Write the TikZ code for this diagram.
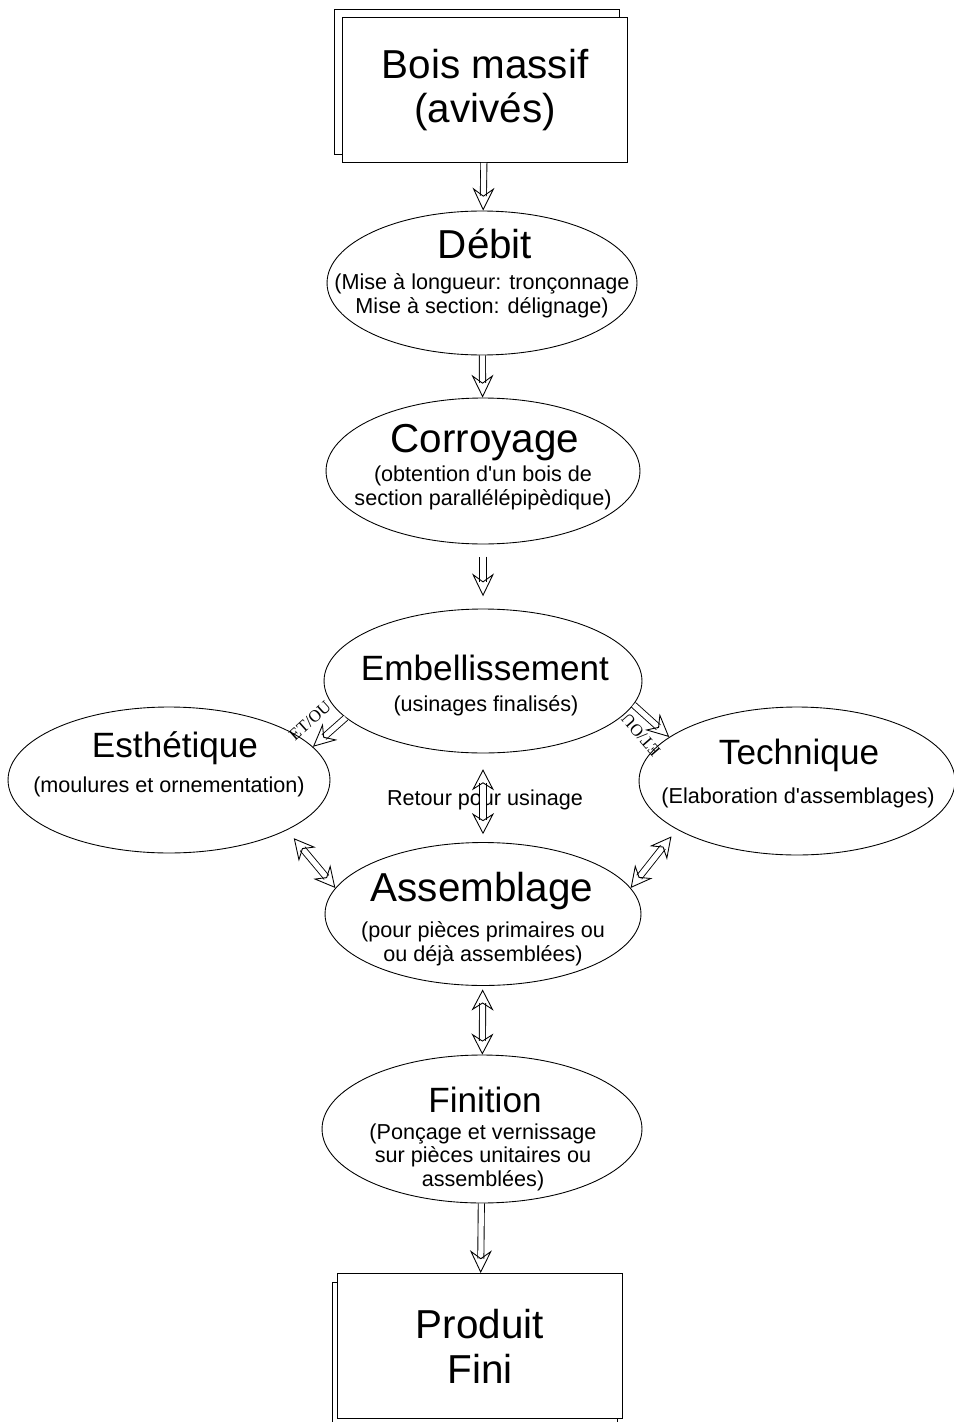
\documentclass[tikz,border=0pt]{standalone}
\usepackage{fontspec}
\setmainfont{Liberation Sans}
\newfontfamily\seriffont{Liberation Serif}
\usepackage{tikz}
\usetikzlibrary{arrows.meta}
\usetikzlibrary{shapes.geometric}

\tikzset{
  etape/.style={ellipse, draw, line width=0.5pt, inner sep=0pt},
  boite/.style={draw, fill=white, line width=0.5pt, minimum width=5.7cm, minimum height=2.9cm,
    align=center, font=\fontsize{23}{25.5}\selectfont},
  grand/.style={font=\fontsize{23}{25}\selectfont, text height=0.72em, text depth=0pt},
  moyen/.style={font=\fontsize{20}{22}\selectfont, text height=0.72em, text depth=0pt},
  detail/.style={font=\fontsize{12.3}{13.4}\selectfont, align=center},
  etou/.style={font=\seriffont\fontsize{9.6}{10}\selectfont, inner sep=0pt},
  fleche/.style={double, double distance=3pt, line width=0.5pt, -{Stealth[open, length=13pt, width=12.5pt, inset=4.5pt]}},
  fleche2/.style={double, double distance=3pt, line width=0.5pt,
    {Stealth[open, length=12pt, width=12.5pt, inset=4pt]}-{Stealth[open, length=12pt, width=12.5pt, inset=4pt]}}
}

\begin{document}
\begin{tikzpicture}[x=0.02cm, y=-0.02cm]
\useasboundingbox (0,0) rectangle (953,1422);

% boites de depart et d'arrivee
\node[boite] (bois-ombre) at (477,82) {};
\node[boite] (bois) at (485,90) {Bois massif\\(avivés)};
\node[boite] (produit-ombre) at (475,1355) {};
\node[boite] (produit) at (480,1346) {Produit\\Fini};

% etapes
\node[etape, minimum width=6.2cm, minimum height=2.88cm] (debit) at (482,283) {};
\node[etape, minimum width=6.28cm, minimum height=2.92cm] (corroy) at (483,471) {};
\node[etape, minimum width=6.36cm, minimum height=2.88cm] (embel) at (483,681) {};
\node[etape, minimum width=6.44cm, minimum height=2.92cm] (esth) at (169,780) {};
\node[etape, minimum width=6.32cm, minimum height=2.96cm] (tech) at (797,781) {};
\node[etape, minimum width=6.32cm, minimum height=2.86cm] (assem) at (483,914) {};
\node[etape, minimum width=6.4cm, minimum height=2.96cm] (finition) at (482,1129) {};

% textes
\node[grand] (debit-titre) at (485,252) {Débit};
\node[detail] (debit-texte) at (482,296) {(Mise à longueur: tronçonnage\\Mise à section: délignage)};
\node[grand] (corroy-titre) at (485,446) {Corroyage};
\node[detail] (corroy-texte) at (483,488) {(obtention d\textquotesingle un bois de\\section parallélépipèdique)};
\node[moyen] (embel-titre) at (485,674) {Embellissement};
\node[detail] (embel-texte) at (486,706) {(usinages finalisés)};
\node[moyen] (esth-titre) at (175,751) {Esthétique};
\node[detail] (esth-texte) at (169,787) {(moulures et ornementation)};
\node[moyen] (tech-titre) at (799,758) {Technique};
\node[detail] (tech-texte) at (798,798) {(Elaboration d\textquotesingle assemblages)};
\node[grand] (assem-titre) at (482,895) {Assemblage};
\node[detail] (assem-texte) at (483,944) {(pour pièces primaires ou\\ou déjà assemblées)};
\node[moyen] (finition-titre) at (485,1106) {Finition};
\node[detail] (finition-texte) at (483,1157) {(Ponçage et vernissage\\sur pièces unitaires ou\\assemblées)};
\node[detail] (retour) at (485,800) {Retour pour usinage};
\node[etou, rotate=42] (etou-g) at (310,721) {ET/OU};
\node[etou, rotate=131] (etou-d) at (641,735) {ET/OU};

% fleches
\draw[fleche] (bois) -- (debit);
\draw[fleche] (debit) -- (corroy);
\draw[fleche, shorten <=7pt, shorten >=7pt] (corroy) -- (embel);
\draw[fleche] (embel.195) -- (esth.13);
\draw[fleche] (embel.-9) -- (tech.161);
\draw[fleche2, shorten <=9pt, shorten >=4.5pt] (embel) -- (assem);
\draw[fleche2, shorten >=6pt] (assem.170) -- (esth.-23);
\draw[fleche2, shorten >=5pt] (assem.10) -- (tech.202);
\draw[fleche2, shorten <=2pt] (assem) -- (finition);
\draw[fleche] (finition) -- (produit);
\end{tikzpicture}
\end{document}
